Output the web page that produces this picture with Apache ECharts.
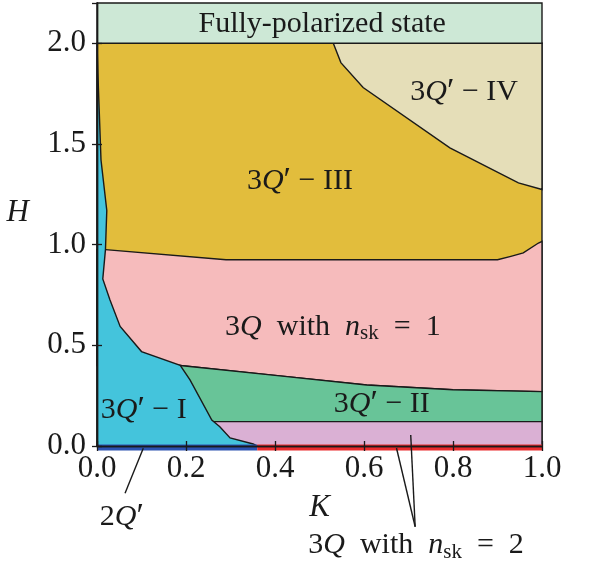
<!DOCTYPE html>
<html>
<head>
<meta charset="utf-8">
<script src="https://cdn.jsdelivr.net/npm/echarts@6/dist/echarts.min.js"></script>
<style>
html, body { margin: 0; padding: 0; background: #fff; }
#chart { width: 603px; height: 563px; }
</style>
</head>
<body>
<div id="chart"></div>
<script>
// phase boundaries, [K, H]
var cyanEdge = [[0, 2.0], [0.002, 1.85], [0.009, 1.42], [0.022, 1.17], [0.019, 0.975], [0.013, 0.83],
    [0.029, 0.726], [0.052, 0.594], [0.10, 0.469], [0.187, 0.40], [0.209, 0.328], [0.258, 0.129],
    [0.276, 0.096], [0.299, 0.04], [0.351, 0.01], [0.36, 0]];
var goldPinkEdge = [[0, 0.975], [0.019, 0.975], [0.29, 0.925], [0.90, 0.925], [0.93, 0.942],
    [0.958, 0.959], [0.992, 1.008], [1.0, 1.016]];
var pinkGreenEdge = [[0.187, 0.40], [0.411, 0.348], [0.606, 0.303], [0.80, 0.279], [1.0, 0.27]];
var ivEdge = [[0.531, 2.0], [0.548, 1.904], [0.598, 1.78], [0.793, 1.481], [0.947, 1.307], [1.0, 1.274]];
var greenPurpleH = 0.121;
var fpBottom = 2.0;
var hMax = 2.2;
var splitK = 0.36;   // 2Q' / 3Q(nsk=2) on the H=0 line

// labels: [K, H, text]
var regionLabels = [
    [0.506, 2.095, 'Fully-polarized state'],
    [0.825, 1.756, '3{it|Q}{pr|′} − IV'],
    [0.456, 1.315, '3{it|Q}{pr|′} − III'],
    [0.53, 0.592, '3{it|Q}  with  {it|n}{sub|sk}  =  1'],
    [0.105, 0.179, '3{it|Q}{pr|′} − I'],
    [0.64, 0.209, '3{it|Q}{pr|′} − II'],
    [0.056, -0.353, '2{it|Q}{pr|′}'],
    [0.717, -0.493, '3{it|Q}  with  {it|n}{sub|sk}  =  2'],
    [-0.178, 1.159, '{ax|H}']
];
var leaders = [
    [[0.104, -0.011], [0.063, -0.235]],
    [[0.673, -0.010], [0.715, -0.401]],
    [[0.705, 0.055], [0.715, -0.401]]
];

var FONT = 'Liberation Serif';
var INK = '#1a1a1a';

function region(points, color) {
    return {
        type: 'custom', coordinateSystem: 'cartesian2d', silent: true, z: 2,
        data: [[0, 0]],
        renderItem: function (params, api) {
            return {
                type: 'polygon',
                shape: { points: points.map(function (p) { return api.coord(p); }) },
                style: { fill: color, stroke: INK, lineWidth: 1.4 }
            };
        }
    };
}

var goldPoly = [[0, 0], [0, fpBottom], [1, fpBottom], [1, 0]];
var ivPoly = ivEdge.concat([[1, fpBottom]]);
var pinkPoly = goldPinkEdge.concat(pinkGreenEdge.slice().reverse()).concat([[0, 0.40]]);
var greenPoly = pinkGreenEdge.concat([[1, greenPurpleH], [0.1, greenPurpleH], [0.1, 0.40]]);
var purplePoly = [[0.2, greenPurpleH], [1, greenPurpleH], [1, 0], [0.2, 0]];
var fpPoly = [[0, fpBottom], [1, fpBottom], [1, hMax], [0, hMax]];
var cyanPoly = cyanEdge.concat([[0, 0]]);

var stripSeries = {
    type: 'custom', coordinateSystem: 'cartesian2d', silent: true, z: 3,
    data: [[0, 0]],
    renderItem: function (params, api) {
        var h = -0.008;
        var a = api.coord([0, h]), m = api.coord([splitK, h]), b = api.coord([1, h]);
        return {
            type: 'group',
            children: [
                { type: 'line', shape: { x1: a[0], y1: a[1], x2: m[0], y2: m[1] }, style: { stroke: '#2c52b0', lineWidth: 6 } },
                { type: 'line', shape: { x1: m[0], y1: m[1], x2: b[0], y2: b[1] }, style: { stroke: '#ea2a2c', lineWidth: 6 } }
            ]
        };
    }
};

var richStyles = {
    it: { fontFamily: FONT, fontSize: 30, fontStyle: 'italic', fill: INK },
    pr: { fontFamily: FONT, fontSize: 34, fill: INK },
    ax: { fontFamily: FONT, fontSize: 31, fontStyle: 'italic', fill: INK },
    sub: { fontFamily: FONT, fontSize: 21, fill: INK, verticalAlign: 'bottom', padding: [14, 0, 0, 0] }
};

var textSeries = {
    type: 'custom', coordinateSystem: 'cartesian2d', silent: true, z: 20,
    data: regionLabels,
    renderItem: function (params, api) {
        var item = regionLabels[params.dataIndex];
        var pt = api.coord([item[0], item[1]]);
        return {
            type: 'text',
            style: {
                x: pt[0], y: pt[1], text: item[2], rich: richStyles,
                font: '30px "' + FONT + '"', fill: INK,
                align: 'center', verticalAlign: 'middle'
            }
        };
    }
};

var leaderSeries = {
    type: 'custom', coordinateSystem: 'cartesian2d', silent: true, z: 20,
    data: leaders.map(function (l, i) { return [i, 0]; }),
    renderItem: function (params, api) {
        var l = leaders[params.dataIndex];
        var a = api.coord(l[0]), b = api.coord(l[1]);
        return { type: 'line', shape: { x1: a[0], y1: a[1], x2: b[0], y2: b[1] }, style: { stroke: INK, lineWidth: 1.4 } };
    }
};

var axisLine = { show: true, lineStyle: { color: INK, width: 1.4 } };
var axisTick = { show: true, inside: true, length: 5, lineStyle: { color: INK, width: 1.3 } };

var myChart = echarts.init(document.getElementById('chart'));
myChart.setOption({
    animation: false,
    grid: { left: 97, right: 61, top: 3, bottom: 117, containLabel: false, outerBoundsMode: 'none' },
    xAxis: [{
        type: 'value', min: 0, max: 1, interval: 0.2, position: 'bottom', z: 10,
        name: 'K', nameLocation: 'middle', nameGap: 46,
        nameTextStyle: { fontFamily: FONT, fontSize: 31, fontStyle: 'italic', color: INK },
        axisLine: axisLine, axisTick: axisTick, splitLine: { show: false },
        axisLabel: { fontFamily: FONT, fontSize: 31, color: INK, margin: 7,
            formatter: function (v) { return v.toFixed(1); } }
    }, {
        type: 'value', min: 0, max: 1, interval: 0.2, position: 'top', z: 10,
        axisLine: axisLine, axisTick: axisTick, splitLine: { show: false }, axisLabel: { show: false }
    }],
    yAxis: [{
        type: 'value', min: 0, max: hMax, interval: 0.5, position: 'left', z: 10,
        axisLine: axisLine, axisTick: axisTick, splitLine: { show: false },
        axisLabel: { fontFamily: FONT, fontSize: 31, color: INK, margin: 11, showMaxLabel: false,
            formatter: function (v) { return v.toFixed(1); } }
    }, {
        type: 'value', min: 0, max: hMax, interval: 0.5, position: 'right', z: 10,
        axisLine: axisLine, axisTick: axisTick, splitLine: { show: false }, axisLabel: { show: false }
    }],
    series: [
        region(goldPoly, '#e2bd3c'),
        region(ivPoly, '#e5deb8'),
        region(pinkPoly, '#f6bbbc'),
        region(greenPoly, '#68c498'),
        region(purplePoly, '#dab0d4'),
        region(fpPoly, '#cde8d6'),
        region(cyanPoly, '#44c4dc'),
        stripSeries,
        leaderSeries,
        textSeries
    ]
});
</script>
</body>
</html>
